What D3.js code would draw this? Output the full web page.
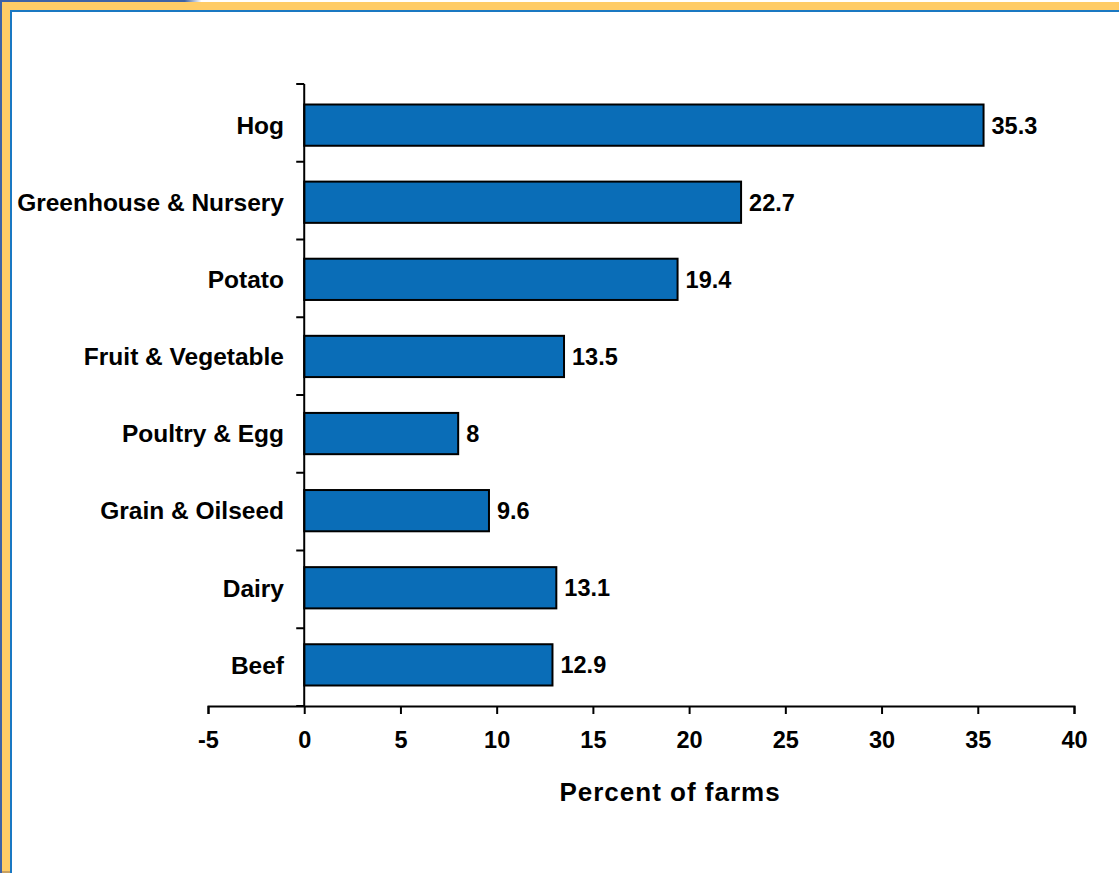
<!DOCTYPE html>
<html>
<head>
<meta charset="utf-8">
<script src="https://cdn.jsdelivr.net/npm/d3@7"></script>
<style>
  html, body { margin: 0; padding: 0; background: #fff; }
  svg { display: block; }
  text { font-family: "Liberation Sans", Arial, sans-serif; font-weight: bold; fill: #000; }
</style>
</head>
<body>
<svg id="chart" width="1119" height="873"></svg>
<script>
// Share of farms by farm type
const categories = ["Hog", "Greenhouse & Nursery", "Potato", "Fruit & Vegetable",
                    "Poultry & Egg", "Grain & Oilseed", "Dairy", "Beef"];
const values = [35.3, 22.7, 19.4, 13.5, 8, 9.6, 13.1, 12.9];
const xTicks = [-5, 0, 5, 10, 15, 20, 25, 30, 35, 40];
const axisTitle = "Percent of farms";

const svg = d3.select("#chart");
const W = 1119, H = 873;

// Slide frame: blue edge, yellow band, thin blue inner rule
const defs = svg.append("defs");
const grad = defs.append("linearGradient").attr("id", "topFade")
  .attr("x1", 0).attr("x2", 1).attr("y1", 0).attr("y2", 0);
grad.append("stop").attr("offset", 0).attr("stop-color", "#3d62a6");
grad.append("stop").attr("offset", 0.165).attr("stop-color", "#3d62a6");
grad.append("stop").attr("offset", 0.18).attr("stop-color", "#ffffff");
grad.append("stop").attr("offset", 1).attr("stop-color", "#ffffff");

svg.append("rect").attr("x", 0).attr("y", 0).attr("width", W).attr("height", H).attr("fill", "#fff");
svg.append("rect").attr("x", 0).attr("y", 0).attr("width", W).attr("height", 2).attr("fill", "url(#topFade)");
svg.append("rect").attr("x", 0).attr("y", 0).attr("width", 2).attr("height", H).attr("fill", "#3d62a6");
svg.append("rect").attr("x", 2).attr("y", 2).attr("width", W - 2).attr("height", 8).attr("fill", "#ffcc66");
svg.append("rect").attr("x", 2).attr("y", 2).attr("width", 8).attr("height", H - 4).attr("fill", "#ffcc66");
svg.append("rect").attr("x", 2).attr("y", H - 2).attr("width", 8).attr("height", 2).attr("fill", "#c8a060");
svg.append("rect").attr("x", 10).attr("y", 10).attr("width", W - 10).attr("height", 2).attr("fill", "#1a78c2");
svg.append("rect").attr("x", 10).attr("y", 10).attr("width", 2).attr("height", H - 10).attr("fill", "#1a78c2");

// Plot area
const plot = { left: 208, right: 1074, top: 84, bottom: 706 };

const x = d3.scaleLinear().domain([-5, 40]).range([plot.left, plot.right]);
const y = d3.scaleBand().domain(categories).range([plot.top + 2, plot.bottom - 2])
  .paddingInner(0.465).paddingOuter(0.24);

const g = svg.append("g");

// Bars
g.selectAll("rect.bar").data(categories).join("rect")
  .attr("class", "bar")
  .attr("x", x(0))
  .attr("y", d => y(d))
  .attr("width", (d, i) => x(values[i]) - x(0))
  .attr("height", y.bandwidth())
  .attr("fill", "#0a6db7")
  .attr("stroke", "#000")
  .attr("stroke-width", 2);

// Value labels
g.selectAll("text.val").data(categories).join("text")
  .attr("class", "val")
  .attr("x", (d, i) => x(values[i]) + 8)
  .attr("y", d => y(d) + y.bandwidth() / 2)
  .attr("dy", "0.36em")
  .attr("font-size", 23.5)
  .text((d, i) => values[i]);

// X axis (plain hyphen for negatives)
const xAxis = d3.axisBottom(x).tickValues(xTicks).tickSize(8).tickPadding(0)
  .tickFormat(d => d < 0 ? "-" + Math.abs(d) : String(d));
const xg = svg.append("g").attr("transform", `translate(0,${plot.bottom})`).call(xAxis);
xg.select(".domain").attr("stroke", "#000").attr("stroke-width", 2);
xg.selectAll(".tick line").attr("stroke", "#000").attr("stroke-width", 2);
xg.selectAll(".tick text").attr("font-size", 23.5).attr("font-family", "Liberation Sans, Arial, sans-serif")
  .attr("font-weight", "bold").attr("fill", "#000")
  .attr("dy", null).attr("y", 42);

// Y axis line at zero with tick marks between categories
const boundaries = d3.range(categories.length + 1).map(i => plot.top + i * (plot.bottom - plot.top) / categories.length);
svg.append("line").attr("x1", x(0)).attr("x2", x(0)).attr("y1", plot.top).attr("y2", plot.bottom)
  .attr("stroke", "#000").attr("stroke-width", 2);
svg.selectAll("line.ytick").data(boundaries).join("line")
  .attr("class", "ytick")
  .attr("x1", x(0) - 8).attr("x2", x(0))
  .attr("y1", d => d).attr("y2", d => d)
  .attr("stroke", "#000").attr("stroke-width", 2);

// Category labels
svg.selectAll("text.cat").data(categories).join("text")
  .attr("class", "cat")
  .attr("x", 284)
  .attr("y", d => y(d) + y.bandwidth() / 2)
  .attr("dy", "0.36em")
  .attr("text-anchor", "end")
  .attr("font-size", 24.5)
  .text(d => d);

// Axis title
svg.append("text")
  .attr("x", 670)
  .attr("y", 801)
  .attr("text-anchor", "middle")
  .attr("font-size", 26)
  .attr("letter-spacing", 1)
  .text(axisTitle);
</script>
</body>
</html>
